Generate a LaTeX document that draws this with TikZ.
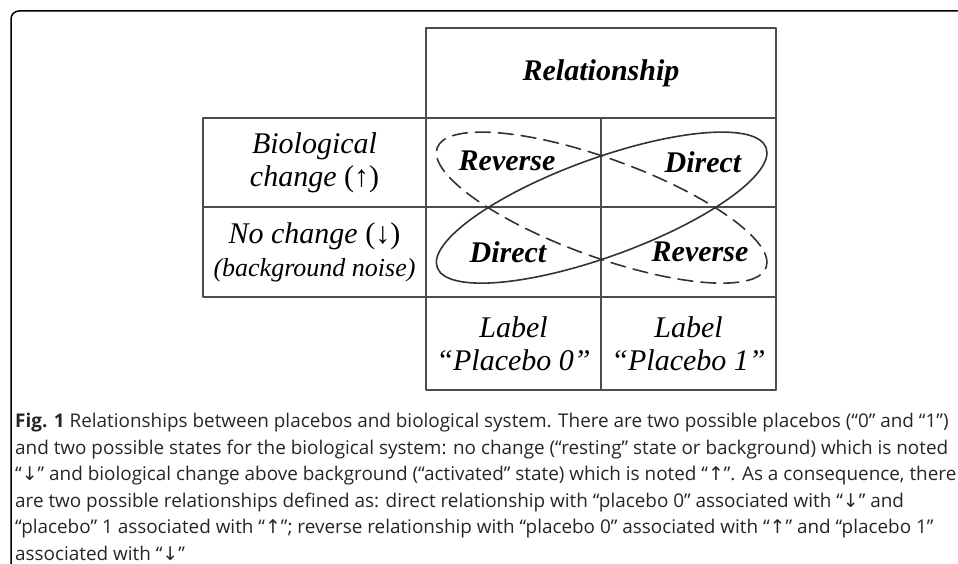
\documentclass[tikz,border=0pt]{standalone}
\usepackage{fontspec}
\setmainfont{Liberation Serif}
\newfontfamily\capfont{Open Sans}
\newfontfamily\arrfont{DejaVu Sans}
\usetikzlibrary{positioning}
\newcommand\UpArr{{\arrfont ↑}}
\newcommand\DnArr{{\arrfont ↓}}

\begin{document}
\begin{tikzpicture}[x=1pt,y=1pt,line cap=round,line join=round,
  cell/.style={draw=black!70,line width=1.3pt,minimum width=175pt,minimum height=89pt,inner sep=0pt,align=center,font=\fontsize{30}{33}\selectfont\itshape},
  tag/.style={inner sep=0pt,font=\fontsize{30}{33}\selectfont\bfseries\itshape},
  loop/.style={draw=black!80,line width=1.6pt}]
\useasboundingbox (0,0) rectangle (958,564);
% frame
\draw[line width=1.5pt,rounded corners=8pt] (11,0) -- (11,553) -- (958,553);
% table
\node[cell,minimum width=350pt,minimum height=90pt] (rel) at (601,491) {\bfseries Relationship};
\node[cell,minimum width=223pt] (bio) at (314.5,401.5) {Biological\\change {\upshape(↑)}};
\node[cell,minimum width=223pt,minimum height=90pt] (noch) at (314.5,312) {No change {\upshape(↓)}\\{\fontsize{26}{30}\selectfont(background noise)}};
\node[cell] (rd) at (513.5,401.5) {};
\node[cell] (dd) at (688.5,401.5) {};
\node[cell,minimum height=90pt] (ru) at (513.5,312) {};
\node[cell,minimum height=90pt] (du) at (688.5,312) {};
\node[cell,minimum height=93pt] (lab0) at (513.5,220.5) {Label\\“Placebo 0”};
\node[cell,minimum height=93pt] (lab1) at (688.5,220.5) {Label\\“Placebo 1”};
% relationships
\coordinate (mid) at (rd.south east);
\draw[loop,rotate around={20:(mid)}] (mid) ellipse [x radius=175pt,y radius=49pt];
\draw[loop,dash pattern=on 15pt off 8pt,rotate around={-20:(mid)}] (mid) ellipse [x radius=175pt,y radius=49pt];
\node[tag] (rev1) at (507,403) {Reverse};
\node[tag] (dir1) at (703,402) {Direct};
\node[tag] (dir0) at (508,312) {Direct};
\node[tag] (rev0) at (700,312) {Reverse};
% caption
\node[anchor=north west,align=left,inner sep=0pt,text=black!85,font=\capfont\fontsize{18.9}{26.6}\selectfont] (cap) at (15,151) {%
{\bfseries Fig. 1} Relationships between placebos and biological system. There are two possible placebos (“0” and “1”)\\
and two possible states for the biological system: no change (“resting” state or background) which is noted\\
“\DnArr” and biological change above background (“activated” state) which is noted “\UpArr”. As a consequence, there\\
are two possible relationships defined as: direct relationship with “placebo 0” associated with “\DnArr” and\\
“placebo” 1 associated with “\UpArr”; reverse relationship with “placebo 0” associated with “\UpArr” and “placebo 1”\\
associated with “\DnArr”};
\end{tikzpicture}
\end{document}
